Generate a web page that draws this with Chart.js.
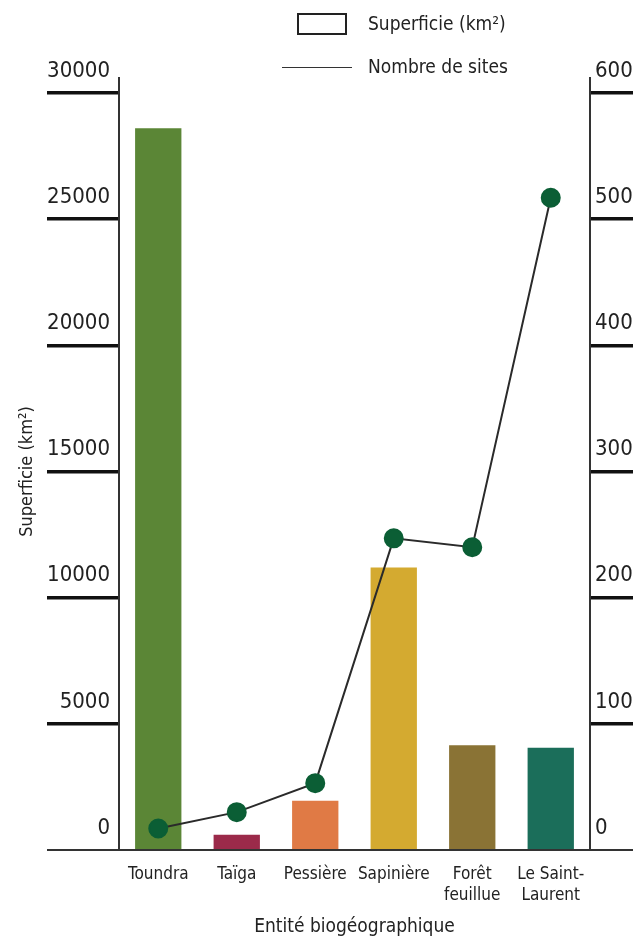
<!DOCTYPE html>
<html>
<head>
<meta charset="utf-8">
<script src="https://cdn.jsdelivr.net/npm/chart.js@4/dist/chart.umd.min.js"></script>
<style>
  body { margin: 0; background: #fff; }
  #wrap { position: relative; width: 637px; height: 944px; }
  .lg { position: absolute; font-family: 'Liberation Sans Narrow', 'DejaVu Sans Condensed', 'Liberation Sans', sans-serif; font-size: 19px; color: #222; line-height: 22px; }
</style>
</head>
<body>
<div id="wrap">
  <canvas id="myChart"></canvas>
  <div class="lg" style="left:297px;top:13px;width:46px;height:18px;border:2px solid #222;"></div>
  <div class="lg" style="left:368px;top:12px;">Superficie (km²)</div>
  <div class="lg" style="left:282px;top:67px;width:70px;height:0;border-top:1.5px solid #333;"></div>
  <div class="lg" style="left:368px;top:55px;">Nombre de sites</div>
</div>
<script>
var FONT = "'Liberation Sans Narrow', 'DejaVu Sans Condensed', 'Liberation Sans', sans-serif";

var categories = ['Toundra', 'Taïga', 'Pessière', 'Sapinière', ['Forêt', 'feuillue'], ['Le Saint-', 'Laurent']];
var superficie = [28600, 600, 1950, 11200, 4150, 4050];
var nombreSites = [17, 30, 53, 247, 240, 517];
var barColors = ['#5b8636', '#9b2a4a', '#e07a45', '#d4aa30', '#8a7335', '#1b6e5a'];

// axis lines reaching above the plot and the baseline across the whole width
var axisLines = {
    id: 'axisLines',
    afterDatasetsDraw: function (chart) {
        var ctx = chart.ctx, a = chart.chartArea;
        var y0 = chart.scales.y.getPixelForValue(0);
        ctx.save();
        ctx.strokeStyle = '#333';
        ctx.lineWidth = 2;
        ctx.beginPath();
        ctx.moveTo(a.left, a.top - 16); ctx.lineTo(a.left, y0);
        ctx.moveTo(a.right, a.top - 16); ctx.lineTo(a.right, y0);
        ctx.moveTo(a.left - 72, y0); ctx.lineTo(a.right + 43, y0);
        ctx.stroke();
        ctx.restore();
    }
};

var tickLine = function (c) { return c.tick && c.tick.value === 0 ? 0 : 3.5; };
var plain = function (v) { return String(v); };

var ctx = document.getElementById('myChart').getContext('2d');
var myChart = new Chart(ctx, {
    type: 'bar',
    data: {
        labels: categories,
        datasets: [{
            type: 'line',
            label: 'Nombre de sites',
            data: nombreSites,
            yAxisID: 'y1',
            order: 0,
            borderColor: '#2a2a2a',
            borderWidth: 2,
            pointRadius: 9,
            pointBackgroundColor: '#0b5e35',
            pointBorderColor: '#0b5e35',
            tension: 0
        },
        {
            label: 'Superficie (km²)',
            data: superficie,
            yAxisID: 'y',
            order: 1,
            backgroundColor: barColors,
            barPercentage: 0.59,
            categoryPercentage: 1
        }]
    },
    options: {
        responsive: true,
        maintainAspectRatio: false,
        animation: false,
        layout: { padding: { top: 93, left: 0, right: 0, bottom: 0 } },
        plugins: {
            legend: { display: false },
            tooltip: { enabled: false }
        },
        scales: {
            x: {
                grid: { display: false },
                border: { display: false },
                ticks: {
                    color: '#222',
                    font: { family: FONT, size: 17, lineHeight: 1.25 },
                    padding: 6,
                    maxRotation: 0,
                    autoSkip: false
                },
                title: {
                    display: true,
                    text: 'Entité biogéographique',
                    color: '#222',
                    font: { family: FONT, size: 19 },
                    padding: { top: 0, bottom: 6 }
                },
                afterFit: function (s) { s.height = 94; }
            },
            y: {
                position: 'left',
                min: 0,
                max: 30000,
                ticks: {
                    stepSize: 5000,
                    callback: plain,
                    color: '#222',
                    font: { family: FONT, size: 22 },
                    padding: -63,
                    labelOffset: -22
                },
                grid: {
                    drawOnChartArea: false,
                    tickLength: 72,
                    color: '#111',
                    lineWidth: tickLine
                },
                border: { display: false },
                title: {
                    display: true,
                    text: 'Superficie (km²)',
                    color: '#222',
                    font: { family: FONT, size: 18 },
                    padding: { top: 17, bottom: 0 }
                },
                afterFit: function (s) { s.width = 119; }
            },
            y1: {
                position: 'right',
                min: 0,
                max: 600,
                ticks: {
                    stepSize: 100,
                    callback: plain,
                    color: '#222',
                    font: { family: FONT, size: 22 },
                    padding: -38,
                    labelOffset: -22
                },
                grid: {
                    drawOnChartArea: false,
                    tickLength: 43,
                    color: '#111',
                    lineWidth: tickLine
                },
                border: { display: false },
                afterFit: function (s) { s.width = 47; }
            }
        }
    },
    plugins: [axisLines]
});
</script>
</body>
</html>
